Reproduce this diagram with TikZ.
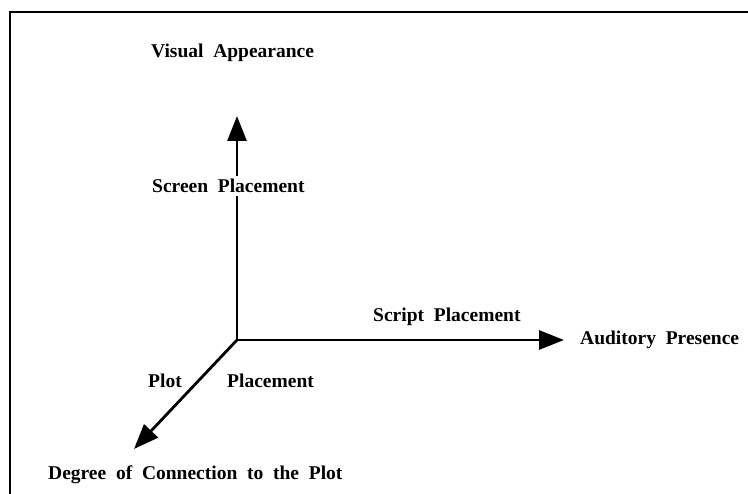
\documentclass[tikz,border=0pt]{standalone}
\usepackage{fontspec}
\setmainfont{Liberation Serif}[WordSpace=2.0]
\usetikzlibrary{arrows.meta}
\begin{document}
\begin{tikzpicture}[x=1pt,y=-1pt,
  lbl/.style={font=\fontsize{19.5}{22}\selectfont\bfseries, inner sep=0pt, anchor=base west},
  axis/.style={line width=2.8pt, -{Triangle[length=25pt,width=19pt]}}]
\useasboundingbox (0,0) rectangle (748,494);
\draw[line width=2pt] (10,494) -- (10,12) -- (748,12);
\coordinate (O) at (237,340);
\coordinate (up) at (237,116);
\coordinate (right) at (564,340);
\coordinate (diag) at (134,449);
\draw[axis] (O) -- (up);
\draw[axis] (O) -- (right);
\draw[axis] (O) -- (diag);
\node[lbl] (va) at (151,58) {Visual Appearance};
\node[lbl, fill=white, inner ysep=3pt] (sp) at (152,193) {Screen Placement};
\node[lbl] (scp) at (373,322) {Script Placement};
\node[lbl] (ap) at (580,345) {Auditory Presence};
\node[lbl] (plot) at (148,388) {Plot};
\node[lbl] (pl) at (227,388) {Placement};
\node[lbl] (dc) at (48,480) {Degree of Connection to the Plot};
\end{tikzpicture}
\end{document}
